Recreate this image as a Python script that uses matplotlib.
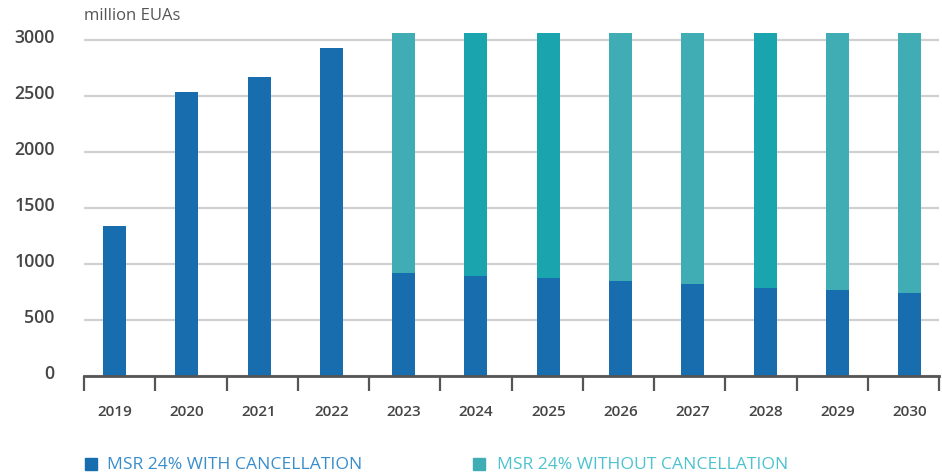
import matplotlib
matplotlib.use("Agg")
import matplotlib.pyplot as plt
import matplotlib.transforms as mtransforms
from matplotlib.patches import Rectangle
import numpy as np

years = ["2019", "2020", "2021", "2022", "2023", "2024", "2025", "2026", "2027", "2028", "2029", "2030"]
with_cancellation = [1340, 2540, 2670, 2930, 920, 893, 872, 845, 819, 789, 771, 741]
without_cancellation = [0, 0, 0, 0, 3060, 3060, 3060, 3060, 3060, 3060, 3060, 3060]
y_ticks = [0, 500, 1000, 1500, 2000, 2500, 3000]
series_names = ["MSR 24% WITH CANCELLATION", "MSR 24% WITHOUT CANCELLATION"]
unit_label = "million EUAs"

BLUE = "#176DAD"
TEAL_A = "#40ACB4"
TEAL_B = "#1AA4AE"
teal_colors = [TEAL_A, TEAL_A, TEAL_A, TEAL_A, TEAL_A, TEAL_B, TEAL_B, TEAL_A, TEAL_A, TEAL_B, TEAL_A, TEAL_A]
TXT = "#454545"
FONT = "Open Sans"

plt.rcParams["font.family"] = [FONT, "DejaVu Sans"]

W, H = 942, 477
fig = plt.figure(figsize=(W / 100, H / 100), dpi=100)
ax_left, ax_right = 84, 939.3
ax_bottom, ax_top = 377, 29.8
ax = fig.add_axes([ax_left / W, 1 - ax_bottom / H, (ax_right - ax_left) / W, (ax_bottom - ax_top) / H])

# bar centres: first at px 114.5, pitch 72.3 px
pitch = 72.3
first = 114.5
x = np.arange(len(years))
w = 23 / pitch
ax.bar(x, without_cancellation, width=w, color=teal_colors, zorder=2)
ax.bar(x, with_cancellation, width=w, color=BLUE, zorder=3)

ax.set_xlim((ax_left - first) / pitch, (ax_right - first) / pitch)
ax.set_ylim(0, 3100)
ax.set_yticks(y_ticks)
ax.set_yticklabels([str(v) for v in y_ticks])
ax.yaxis.grid(True, color="#d0d0d0", linewidth=1.6, zorder=0)
ax.set_axisbelow(True)
ax.tick_params(axis="y", length=0, pad=21, labelsize=12.8, labelcolor=TXT)
offset = mtransforms.ScaledTranslation(0, 5 / 100, fig.dpi_scale_trans)
for lab in ax.get_yticklabels():
    lab.set_fontweight("semibold")
    lab.set_transform(lab.get_transform() + offset)

ax.set_xticks(x)
ax.set_xticklabels(years)
ax.tick_params(axis="x", which="major", length=0, pad=20, labelsize=11, labelcolor=TXT)
for lab in ax.get_xticklabels():
    lab.set_fontweight("semibold")
# category separators: evenly spaced across axis
n = len(years)
sep_px = np.linspace(ax_left, ax_right, n + 1)
ax.set_xticks((sep_px - first) / pitch, minor=True)
ax.tick_params(axis="x", which="minor", length=11, width=1.6, color="#555555", direction="out")

for s in ["top", "right", "left"]:
    ax.spines[s].set_visible(False)
ax.spines["bottom"].set_color("#555555")
ax.spines["bottom"].set_linewidth(2)
ax.spines["bottom"].set_zorder(5)

fig.text(84 / W, 1 - 16 / H, unit_label, fontsize=12, color="#555555", ha="left", va="center")

# legend
fig.patches.append(Rectangle((85 / W, 1 - 471 / H), 12 / W, 12 / H, transform=fig.transFigure, color=BLUE, figure=fig))
fig.text(107 / W, 1 - 465 / H, series_names[0], fontsize=12.6, color="#3A8DCB", ha="left", va="center")
fig.patches.append(Rectangle((472.5 / W, 1 - 471 / H), 12 / W, 12 / H, transform=fig.transFigure, color=TEAL_A, figure=fig))
fig.text(497 / W, 1 - 465 / H, series_names[1], fontsize=12.6, color="#4DC3CE", ha="left", va="center")

fig.savefig("out.png", dpi=100)
